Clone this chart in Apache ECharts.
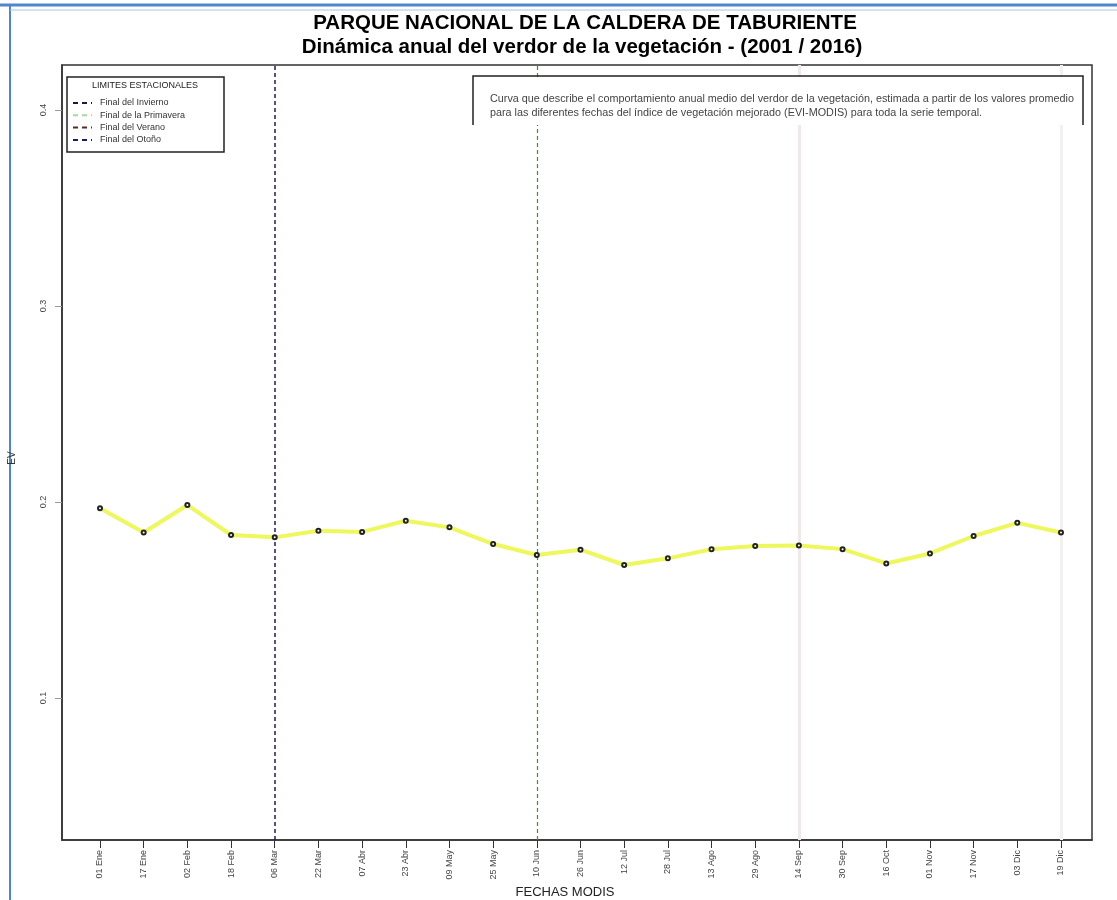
<!DOCTYPE html>
<html><head><meta charset="utf-8">
<script src="https://cdn.jsdelivr.net/npm/echarts@6/dist/echarts.min.js"></script>
<style>html,body{margin:0;padding:0;background:#fff}#c{width:1117px;height:900px}</style>
</head><body><div id="c"></div>
<script>
const dates = ['01 Ene','17 Ene','02 Feb','18 Feb','06 Mar','22 Mar','07 Abr','23 Abr','09 May','25 May','10 Jun','26 Jun','12 Jul','28 Jul','13 Ago','29 Ago','14 Sep','30 Sep','16 Oct','01 Nov','17 Nov','03 Dic','19 Dic'];
const ev = [0.1968,0.1845,0.1985,0.1832,0.1820,0.1854,0.1848,0.1905,0.1871,0.1786,0.1730,0.1757,0.1679,0.1713,0.1759,0.1776,0.1779,0.1760,0.1687,0.1738,0.1827,0.1894,0.1845];
const yTicks = [0.1,0.2,0.3,0.4];
const seasonNames = ['Final del Invierno','Final de la Primavera','Final del Verano','Final del Otoño'];
const seasonIdx = [4,10,16,22];
const seasonColors = ['#1b1b6b','#2e9a2e','#efe9e9','#f1f1f1'];
const legendColors = ['#1b1b3b','#a8d8a0','#5a2a2a','#1b1b6b'];
const titleText = 'PARQUE NACIONAL DE LA CALDERA DE TABURIENTE';
const subText = 'Dinámica anual del verdor de la vegetación - (2001 / 2016)';
const noteLines = ['Curva que describe el comportamiento anual medio del verdor de la vegetación, estimada a partir de los valores promedio',
 'para las diferentes fechas del índice de vegetación mejorado (EVI-MODIS) para toda la serie temporal.'];

const chart = echarts.init(document.getElementById('c'));
const F = 'Liberation Sans, Arial, sans-serif';
const idx = dates.map((d,i)=>i);

const graphics = [
  {type:'line', shape:{x1:0,y1:5,x2:1117,y2:5}, style:{stroke:'#4f86cf',lineWidth:3}},
  {type:'line', shape:{x1:10,y1:6,x2:10,y2:900}, style:{stroke:'#4f86cf',lineWidth:2}},
  {type:'line', shape:{x1:10,y1:10,x2:1117,y2:10}, style:{stroke:'#a9c4ea',lineWidth:1}},
  {type:'text', x:585, y:23, style:{text:titleText, font:'bold 20.5px '+F, fill:'#000', align:'center', verticalAlign:'middle'}},
  {type:'text', x:582, y:47, style:{text:subText, font:'bold 20.5px '+F, fill:'#000', align:'center', verticalAlign:'middle'}},
  {type:'text', x:565, y:892, style:{text:'FECHAS MODIS', font:'13px '+F, fill:'#222', align:'center', verticalAlign:'middle'}},
  {type:'text', x:12, y:458, rotation:Math.PI/2, style:{text:'EV', font:'10px '+F, fill:'#333', align:'center', verticalAlign:'middle'}},
  {type:'rect', shape:{x:67,y:77,width:157,height:75}, style:{fill:'#fff',stroke:'#222',lineWidth:1.5}, z:10},
  {type:'text', x:145, y:86, z:11, style:{text:'LIMITES ESTACIONALES', font:'9px '+F, fill:'#222', align:'center', verticalAlign:'middle'}},
  {type:'polyline', shape:{points:[[473,125],[473,76],[1083,76],[1083,125]]}, style:{stroke:'#222',lineWidth:1.5,fill:null}, z:10},
  {type:'rect', shape:{x:474,y:77,width:608,height:48}, style:{fill:'#fff'}, z:9},
];
seasonNames.forEach((n,i)=>{
  const y = 103 + i*12.3;
  graphics.push({type:'line', z:11, shape:{x1:73,y1:y,x2:92,y2:y}, style:{stroke:legendColors[i],lineWidth:2,lineDash:[5,4]}});
  graphics.push({type:'text', z:11, x:100, y:y, style:{text:n, font:'9px '+F, fill:'#333', verticalAlign:'middle'}});
});
noteLines.forEach((t,i)=>{
  graphics.push({type:'text', z:11, x:490, y:99+i*14, style:{text:t, font:'10.8px '+F, fill:'#444', verticalAlign:'middle'}});
});

chart.setOption({
  animation:false,
  backgroundColor:'#fff',
  grid:{left:62, top:65, width:1030, height:775, show:true, borderColor:'#333', borderWidth:1.5, backgroundColor:'transparent'},
  xAxis:{type:'value', min:-0.87, max:22.71,
    axisLine:{show:true, onZero:false, lineStyle:{color:'#333',width:1.5}},
    axisTick:{show:true, customValues:idx, length:8, lineStyle:{color:'#333'}},
    axisLabel:{customValues:idx, rotate:90, margin:10, fontSize:9, fontFamily:F, color:'#444',
      formatter:(v)=>dates[Math.round(v)]},
    splitLine:{show:false}},
  yAxis:{type:'value', min:0.0276, max:0.423,
    axisLine:{show:true, onZero:false, lineStyle:{color:'#333',width:1.5}},
    axisTick:{show:true, customValues:yTicks, length:7, lineStyle:{color:'#999'}},
    axisLabel:{customValues:yTicks, rotate:90, margin:14, fontSize:9, fontFamily:F, color:'#444', formatter:(v)=>String(Math.round(v*10)/10)},
    splitLine:{show:false}},
  graphic:graphics,
  series:[
    {type:'line', data:[], markLine:{silent:true, symbol:'none', label:{show:false},
      data:seasonIdx.map((x,i)=>({xAxis:x, lineStyle:{color:seasonColors[i], type: i<2?[4,3]:'solid', width: i===0?1.5:(i===1?1.2:3)}}))}},
    {type:'line', data:ev.map((v,i)=>[i,v]), z:5,
      lineStyle:{color:'#eef75c', width:4},
      symbol:'emptyCircle', symbolSize:4,
      itemStyle:{color:'#222', borderColor:'#222', borderWidth:1}}
  ]
});
</script></body></html>
